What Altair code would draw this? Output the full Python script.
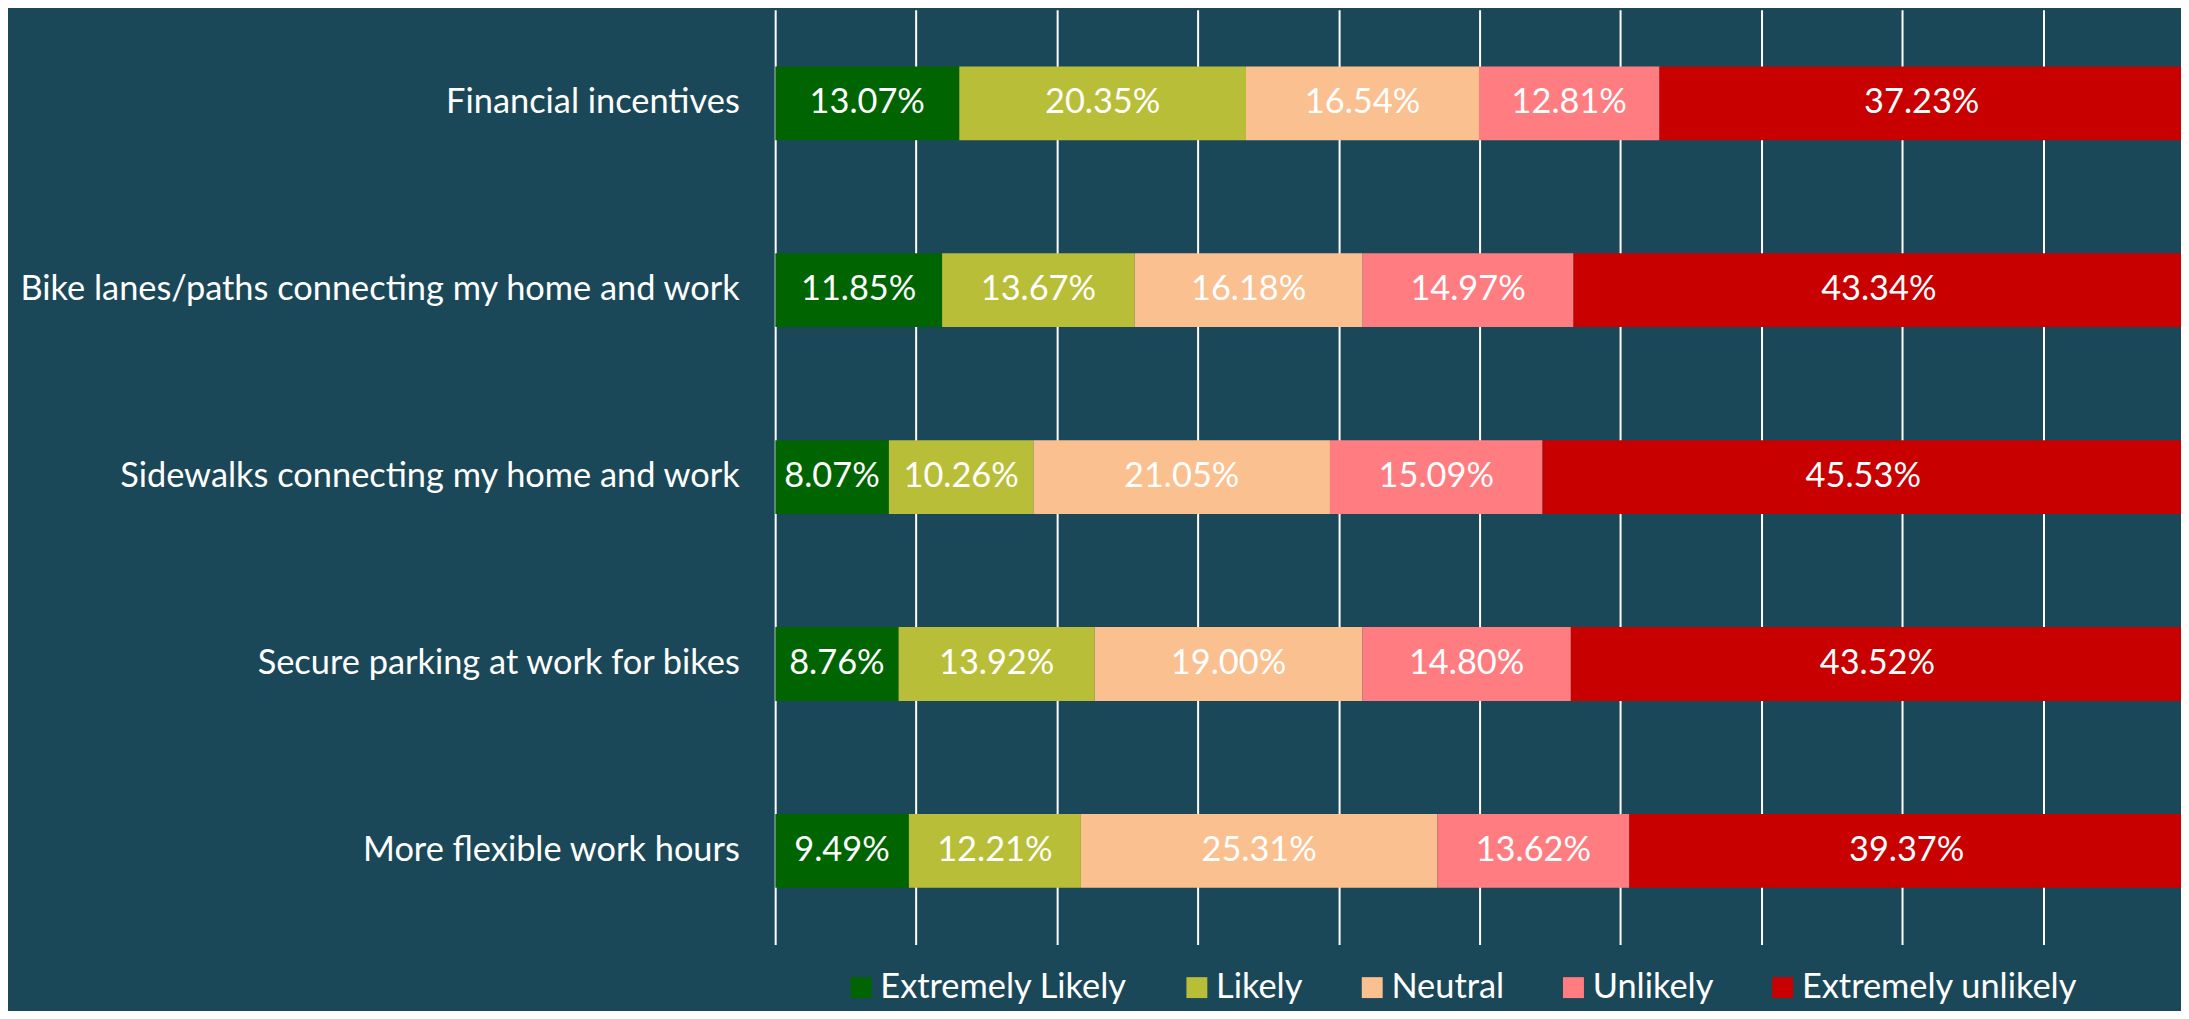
import altair as alt
import pandas as pd

items = [
    "Financial incentives",
    "Bike lanes/paths connecting my home and work",
    "Sidewalks connecting my home and work",
    "Secure parking at work for bikes",
    "More flexible work hours",
]
responses = ["Extremely Likely", "Likely", "Neutral", "Unlikely", "Extremely unlikely"]
colors = ["#006400", "#B8BE37", "#FAC090", "#FF7C80", "#C80000"]

extremely_likely = [13.07, 11.85, 8.07, 8.76, 9.49]
likely = [20.35, 13.67, 10.26, 13.92, 12.21]
neutral = [16.54, 16.18, 21.05, 19.00, 25.31]
unlikely = [12.81, 14.97, 15.09, 14.80, 13.62]
extremely_unlikely = [37.23, 43.34, 45.53, 43.52, 39.37]

series = [extremely_likely, likely, neutral, unlikely, extremely_unlikely]
rows = []
for i, item in enumerate(items):
    for k, resp in enumerate(responses):
        rows.append({"item": item, "response": resp, "order": k, "value": series[k][i]})
df = pd.DataFrame(rows)

FONT = "Lato"
FS = 34.5
W, H = 1411, 938

base = (
    alt.Chart(df)
    .transform_stack(stack="value", as_=["x0", "x1"], groupby=["item"],
                     sort=[alt.SortField("order", order="ascending")])
    .transform_calculate(mid="(datum.x0 + datum.x1) / 2",
                         label="format(datum.value, '.2f') + '%'")
)

y_enc = alt.Y(
    "item:N",
    sort=items,
    scale=alt.Scale(paddingInner=0.605, paddingOuter=0.3025),
    axis=alt.Axis(title=None, labelFontSize=FS, labelColor="white", labelFont=FONT,
                  labelPadding=36, ticks=False, domain=False, labelLimit=900),
)

bars = base.mark_bar(clip=True).encode(
    y=y_enc,
    x=alt.X(
        "x0:Q",
        scale=alt.Scale(domain=[0, 99.79], nice=False, zero=True),
        axis=alt.Axis(values=[0, 10, 20, 30, 40, 50, 60, 70, 80, 90], labels=False,
                      ticks=False, domain=False, grid=True, gridColor="#FFFFFF",
                      gridWidth=2, title=None),
    ),
    x2="x1:Q",
    color=alt.Color(
        "response:N",
        scale=alt.Scale(domain=responses, range=colors),
        title=None,
        legend=alt.Legend(
            orient="none", direction="horizontal", columns=5,
            legendX=69, legendY=964, padding=0,
            symbolType="square", symbolSize=441, symbolStrokeWidth=0, symbolOpacity=1,
            labelFontSize=FS, labelColor="white", labelFont=FONT, labelOffset=2,
            columnPadding=52, labelLimit=900,
        ),
    ),
)

text = base.mark_text(color="white", fontSize=FS, font=FONT, baseline="middle").encode(
    y=alt.Y("item:N", sort=items),
    x=alt.X("mid:Q"),
    text="label:N",
)

chart = (
    alt.layer(bars, text)
    .properties(
        width=W, height=H,
        autosize=alt.AutoSizeParams(type="none"),
        padding={"left": 770, "top": 0, "right": 0, "bottom": 65},
        background="#1B4858",
    )
    .configure_view(strokeWidth=0)
)

chart.save("out.html", embed_options={"renderer": "svg", "actions": False})
